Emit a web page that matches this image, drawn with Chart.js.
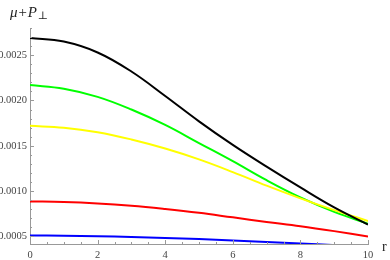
<!DOCTYPE html>
<html>
<head>
<meta charset="utf-8">
<script src="https://cdn.jsdelivr.net/npm/chart.js@4"></script>
<style>
  html, body { margin: 0; padding: 0; background: #fff; }
  #wrap { width: 390px; height: 260px; }
</style>
</head>
<body>
<div id="wrap"><canvas id="chart"></canvas></div>
<script>
const rValues = [0, 1, 2, 3, 4, 5, 6, 7, 8, 9, 10];

const blackSeries  = [0.00269, 0.00265, 0.00253, 0.00232, 0.00205, 0.00177, 0.00151, 0.00127, 0.00104, 0.00082, 0.00063];
const greenSeries  = [0.00217, 0.00213, 0.00204, 0.00190, 0.00173, 0.00153, 0.00133, 0.00112, 0.00093, 0.00077, 0.00064];
const yellowSeries = [0.00172, 0.00170, 0.00165, 0.00157, 0.00147, 0.00135, 0.00121, 0.00106, 0.00092, 0.00079, 0.00067];
const redSeries    = [0.000886, 0.00088, 0.000864, 0.000838, 0.000802, 0.00076, 0.00071, 0.00066, 0.000612, 0.000558, 0.0005];
const blueSeries   = [0.000511, 0.000508, 0.000502, 0.000494, 0.000483, 0.00047, 0.000455, 0.000439, 0.000422, 0.000404, 0.000385];

const xTicks = [0, 2, 4, 6, 8, 10];
const yTicks = [0.0005, 0.0010, 0.0015, 0.0020, 0.0025];

const serif = "'Liberation Serif', 'DejaVu Serif', serif";

function toPoints(vals) {
    return vals.map((v, i) => ({ x: rValues[i], y: v }));
}

function line(vals, color) {
    return {
        data: toPoints(vals),
        borderColor: color,
        borderWidth: 2,
        pointRadius: 0,
        fill: false,
        tension: 0.4
    };
}

// inward tick marks + axis titles, drawn the way the reference does
const axisDecor = {
    id: 'axisDecor',
    afterDraw(chart) {
        const { ctx, chartArea, scales: { x, y } } = chart;
        ctx.save();
        ctx.strokeStyle = '#999';
        ctx.lineWidth = 1;

        for (let i = 5; i <= 28; i++) {
            const py = Math.round(y.getPixelForValue(i / 10000)) + 0.5;
            const len = i % 5 === 0 ? 4 : 2;
            ctx.beginPath();
            ctx.moveTo(chartArea.left, py);
            ctx.lineTo(chartArea.left + len, py);
            ctx.stroke();
        }
        for (let i = 0; i <= 20; i++) {
            const px = Math.round(x.getPixelForValue(i / 2)) + 0.5;
            const len = i % 4 === 0 ? 4 : 2;
            ctx.beginPath();
            ctx.moveTo(px, chartArea.bottom);
            ctx.lineTo(px, chartArea.bottom - len);
            ctx.stroke();
        }

        ctx.fillStyle = '#222';
        ctx.textBaseline = 'alphabetic';
        ctx.font = 'italic 15px ' + serif;
        ctx.fillText('μ+P', 10, 17);
        const w = ctx.measureText('μ+P').width;
        ctx.font = '11px ' + serif;
        ctx.fillText('⊥', 10 + w + 1, 19);

        ctx.font = '14px ' + serif;
        ctx.fillText('r', 382, 251);
        ctx.restore();
    }
};

new Chart(document.getElementById('chart'), {
    type: 'line',
    data: {
        datasets: [
            line(blackSeries, '#000000'),
            line(yellowSeries, '#ffff00'),
            line(greenSeries, '#00ff00'),
            line(redSeries, '#ff0000'),
            line(blueSeries, '#0000ff')
        ]
    },
    options: {
        responsive: true,
        maintainAspectRatio: false,
        animation: false,
        layout: { padding: { top: 28, right: 22, left: 0, bottom: 0 } },
        plugins: {
            legend: { display: false },
            tooltip: { enabled: false }
        },
        scales: {
            x: {
                type: 'linear',
                min: 0,
                max: 10,
                afterBuildTicks: scale => { scale.ticks = xTicks.map(v => ({ value: v })); },
                afterFit: scale => { scale.height = 16; },
                grid: { drawOnChartArea: false, drawTicks: false },
                border: { display: true, color: '#999', width: 1 },
                ticks: {
                    padding: 5,
                    maxRotation: 0,
                    color: '#444',
                    font: { family: serif, size: 10.5 }
                }
            },
            y: {
                min: 0.000416,
                max: 0.0028,
                afterBuildTicks: scale => { scale.ticks = yTicks.map(v => ({ value: v })); },
                afterFit: scale => { scale.width = 30; },
                grid: { drawOnChartArea: false, drawTicks: false },
                border: { display: true, color: '#999', width: 1 },
                ticks: {
                    padding: 3,
                    color: '#444',
                    font: { family: serif, size: 10.5 },
                    callback: v => v.toFixed(4)
                }
            }
        }
    },
    plugins: [axisDecor]
});
</script>
</body>
</html>
